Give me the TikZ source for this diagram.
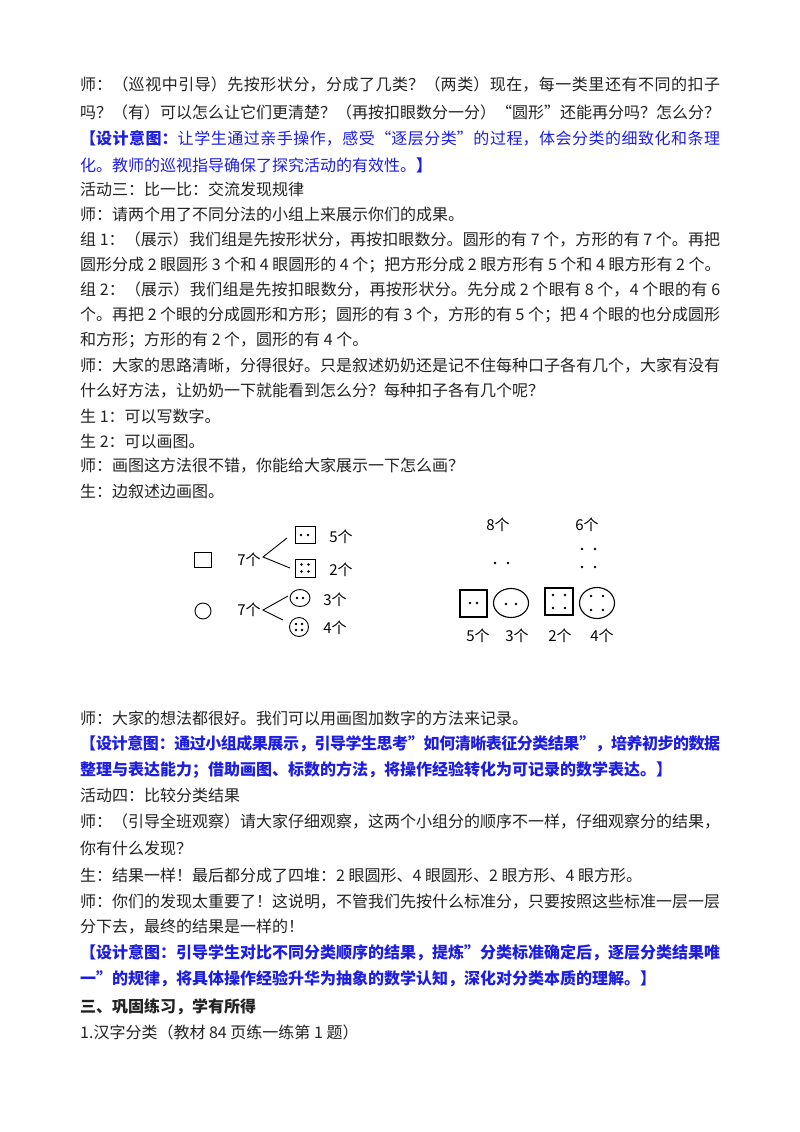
\documentclass[tikz,border=0pt]{standalone}
\usepackage{fontspec}
\setmainfont{Noto Sans CJK SC}
\XeTeXlinebreaklocale "zh"
\XeTeXlinebreakskip=0pt plus 4pt minus 1pt
\definecolor{txt}{RGB}{35,35,35}
\definecolor{bl}{RGB}{30,30,225}
\tikzset{ln/.style={anchor=west,inner sep=0pt,text=txt,font=\fontsize{16}{18}\selectfont},
 bln/.style={ln,text=bl,font=\fontsize{16}{18}\selectfont\bfseries},
 hw/.style={inner sep=0pt,text=black,font=\fontsize{15}{16}\selectfont},
 pen/.style={draw=black,line width=1.1pt},
 dot/.style={fill=black,circle,inner sep=0pt,minimum size=2.6pt}}
\newcommand\fl[1]{\parbox{640pt}{\tolerance=10000\parfillskip=0pt\relax #1}}
\begin{document}
\begin{tikzpicture}[x=1pt,y=-1pt]
\useasboundingbox[fill=white] (0,0) rectangle (800,1132);
\node[ln] (l1) at (80,85) {\fl{师：（巡视中引导）先按形状分，分成了几类？（两类）现在，每一类里还有不同的扣子}};
\node[ln] (l2) at (80,112) {\fl{吗？（有）可以怎么让它们更清楚？（再按扣眼数分一分）“圆形”还能再分吗？怎么分？}};
\node[ln,text=bl] (l3) at (80,138) {\fl{\textbf{【设计意图：}让学生通过亲手操作，感受“逐层分类”的过程，体会分类的细致化和条理}};
\node[ln,text=bl] (l4) at (80,165) {化。教师的巡视指导确保了探究活动的有效性。\textbf{】}};
\node[ln] (l5) at (80,189) {活动三：比一比：交流发现规律};
\node[ln] (l6) at (80,214) {师：请两个用了不同分法的小组上来展示你们的成果。};
\node[ln] (l7) at (80,240) {\fl{组 1：（展示）我们组是先按形状分，再按扣眼数分。圆形的有 7 个，方形的有 7 个。再把}};
\node[ln] (l8) at (80,265) {圆形分成 2 眼圆形 3 个和 4 眼圆形的 4 个；把方形分成 2 眼方形有 5 个和 4 眼方形有 2 个。};
\node[ln] (l9) at (80,290) {\fl{组 2：（展示）我们组是先按扣眼数分，再按形状分。先分成 2 个眼有 8 个，4 个眼的有 6}};
\node[ln] (l10) at (80,315) {\fl{个。再把 2 个眼的分成圆形和方形；圆形的有 3 个，方形的有 5 个；把 4 个眼的也分成圆形}};
\node[ln] (l11) at (80,340) {和方形；方形的有 2 个，圆形的有 4 个。};
\node[ln] (l12) at (80,366) {\fl{师：大家的思路清晰，分得很好。只是叙述奶奶还是记不住每种口子各有几个，大家有没有}};
\node[ln] (l13) at (80,391) {什么好方法，让奶奶一下就能看到怎么分？每种扣子各有几个呢？};
\node[ln] (l14) at (80,416) {生 1：可以写数字。};
\node[ln] (l15) at (80,441) {生 2：可以画图。};
\node[ln] (l16) at (80,466) {师：画图这方法很不错，你能给大家展示一下怎么画？};
\node[ln] (l17) at (80,491) {生：边叙述边画图。};
% diagram left
\draw[pen,line width=0.9pt] (194,552) rectangle (211,567);
\node[hw] (s7) at (249,560) {7个};
\coordinate (sb) at (263,557);
\draw[pen,line width=0.9pt] (287,538) -- (sb) -- (290,568);
\node[draw,line width=1pt,minimum width=20pt,minimum height=17pt,inner sep=0pt] (q2) at (305,535) {};
\node[dot] at (301,535) {}; \node[dot] at (308,535) {};
\node[hw] at (341,537) {5个};
\node[draw,line width=1pt,minimum width=20pt,minimum height=18pt,inner sep=0pt] (q4) at (305,568) {};
\foreach \dx in {-3.5,3.5}\foreach \dy in {-3.5,3.5}{\node[dot] at (305+\dx,568+\dy) {};}
\node[hw] at (341,570) {2个};
\draw[pen,line width=0.9pt] (203,611) circle[radius=8];
\node[hw] (c7) at (249,610) {7个};
\coordinate (cb) at (263,610);
\draw[pen,line width=0.9pt] (288,596) -- (cb) -- (283,620);
\draw[pen,line width=0.9pt] (300,598) ellipse[x radius=10,y radius=8.5];
\node[dot] at (297,598) {}; \node[dot] at (303,598) {};
\node[hw] at (335,600) {3个};
\draw[pen,line width=0.9pt] (299,627) circle[radius=9.5];
\foreach \dx in {-3,3}\foreach \dy in {-3,3}{\node[dot] at (299+\dx,627+\dy) {};}
\node[hw] at (335,628) {4个};
% diagram right
\node[hw] at (498,525) {8个};
\node[hw] at (587,525) {6个};
\node[dot] at (495,563) {}; \node[dot] at (508,563) {};
\foreach \xx in {582,595}\foreach \yy in {549,567}{\node[dot] at (\xx,\yy) {};}
\draw[pen] (460,590) rectangle (487,617);
\node[dot] at (470,603) {}; \node[dot] at (477,603) {};
\draw[pen] (511,603) ellipse[x radius=17.5,y radius=14.5];
\node[dot] at (506,604) {}; \node[dot] at (516,604) {};
\draw[pen] (545,588) rectangle (573,615);
\foreach \xx in {553,565}\foreach \yy in {595,608}{\node[dot] at (\xx,\yy) {};}
\draw[pen] (597,603) ellipse[x radius=17.5,y radius=15.5];
\foreach \xx in {591,603}\foreach \yy in {596,610}{\node[dot] at (\xx,\yy) {};}
\node[hw] at (478,636) {5个};
\node[hw] at (517,636) {3个};
\node[hw] at (560,636) {2个};
\node[hw] at (602,636) {4个};
% lower text
\node[ln] (l18) at (80,718) {师：大家的想法都很好。我们可以用画图加数字的方法来记录。};
\node[bln] (l19) at (80,744) {\fl{【设计意图：通过小组成果展示，引导学生思考”如何清晰表征分类结果”，培养初步的数据}};
\node[bln] (l20) at (80,770) {整理与表达能力；借助画图、标数的方法，将操作经验转化为可记录的数学表达。】};
\node[ln] (l21) at (80,795) {活动四：比较分类结果};
\node[ln] (l22) at (80,821) {\fl{师：（引导全班观察）请大家仔细观察，这两个小组分的顺序不一样，仔细观察分的结果，}};
\node[ln] (l23) at (80,848) {你有什么发现？};
\node[ln] (l24) at (80,875) {生：结果一样！最后都分成了四堆：2 眼圆形、4 眼圆形、2 眼方形、4 眼方形。};
\node[ln] (l25) at (80,902) {\fl{师：你们的发现太重要了！这说明，不管我们先按什么标准分，只要按照这些标准一层一层}};
\node[ln] (l26) at (80,927) {分下去，最终的结果是一样的！};
\node[bln] (l27) at (80,953) {\fl{【设计意图：引导学生对比不同分类顺序的结果，提炼”分类标准确定后，逐层分类结果唯}};
\node[bln] (l28) at (80,979) {一”的规律，将具体操作经验升华为抽象的数学认知，深化对分类本质的理解。】};
\node[ln,font=\fontsize{16}{18}\selectfont\bfseries] (l29) at (80,1007) {三、巩固练习，学有所得};
\node[ln] (l30) at (80,1032) {1.汉字分类（教材 84 页练一练第 1 题）};
\end{tikzpicture}
\end{document}
